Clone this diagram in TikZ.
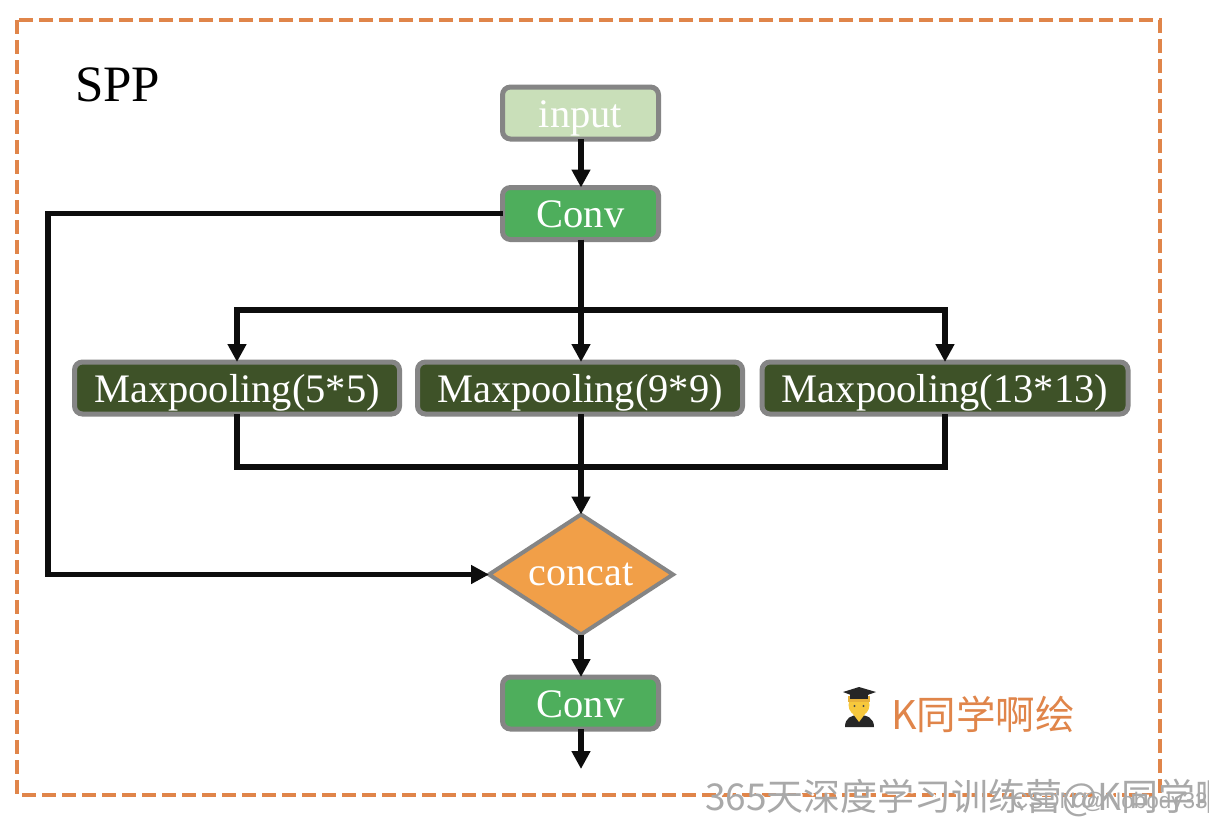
\documentclass[tikz,border=0pt]{standalone}
\usepackage{fontspec}
\setmainfont{Liberation Serif}
\newfontfamily\cjkfont{Noto Sans CJK SC}
\newfontfamily\latinsans{Liberation Sans}
\usetikzlibrary{arrows.meta,shapes.geometric,calc}
\definecolor{frameor}{HTML}{E0854A}
\definecolor{edgegray}{HTML}{858585}
\definecolor{lightgr}{HTML}{C9DFB9}
\definecolor{midgr}{HTML}{4EAE5C}
\definecolor{darkgr}{HTML}{3E5228}
\definecolor{concator}{HTML}{F19F48}
\definecolor{wmgray}{HTML}{A9A9A9}
\definecolor{skin}{HTML}{F7C83C}
\definecolor{hair}{HTML}{E9B23A}
\tikzset{
  x=1pt,y=-1pt,
  box/.style={draw=edgegray,line width=5pt,rounded corners=8pt,inner sep=0pt,outer sep=0pt,
    minimum height=52pt,text height=32pt,text depth=4pt,text=white,font=\fontsize{40.5}{44}\selectfont},
  inbox/.style={box,fill=lightgr,minimum width=156pt},
  convbox/.style={box,fill=midgr,minimum width=156pt},
  poolbox/.style={box,fill=darkgr},
  mergebox/.style={diamond,draw=edgegray,line width=4pt,fill=concator,inner sep=0pt,outer sep=0pt,aspect=1.52,
    minimum width=184pt,minimum height=120pt,text=white,font=\fontsize{40}{44}\selectfont},
  wire/.style={line width=5.5pt,draw=black!95},
  flow/.style={wire,-{Triangle[length=18pt,width=18pt]}},
  wmark/.style={text=wmgray,inner sep=0pt,anchor=west,font=\cjkfont\fontsize{37}{40}\selectfont},
  wmhalo/.style={text=white,inner sep=0pt,anchor=west,font=\cjkfont\fontsize{37}{40}\selectfont},
  wmsmall/.style={text=wmgray,inner sep=0pt,anchor=west,font=\latinsans\fontsize{22.5}{26}\selectfont},
}
\begin{document}
\begin{tikzpicture}
\path[use as bounding box,fill=white] (0,0) rectangle (1209,825);
\begin{scope}
\clip (0,0) rectangle (1209,825);
\draw[frameor,line width=4.5pt,dash pattern=on 14pt off 6pt] (17,20) rectangle (1160,795);

\node[inner sep=0pt,anchor=west,font=\fontsize{51}{55}\selectfont] (title) at (75,85) {SPP};

\node[inbox] (input) at (580.5,113) {input};
\node[convbox] (conv1) at (580.5,213.5) {Conv};
\node[poolbox,minimum width=325pt] (pool1) at (237,388) {Maxpooling(5*5)};
\node[poolbox,minimum width=325pt] (pool2) at (580,388) {Maxpooling(9*9)};
\node[poolbox,minimum width=366pt] (pool3) at (945,388) {Maxpooling(13*13)};
\node[mergebox] (concat) at (581,574.5) {concat};
\node[convbox] (conv2) at (580.5,703) {Conv};
\coordinate (outend) at (581,769);
\coordinate (leftcorner) at (48,213.5);
\coordinate (splitpt) at (581,310);
\coordinate (mergept) at (581,467);

\draw[flow] (input.south -| splitpt) -- (conv1.north -| splitpt);
\draw[flow] (conv1.south -| splitpt) -- (pool2.north -| splitpt);
\draw[flow] (splitpt) -| (pool1.north);
\draw[flow] (splitpt) -| (pool3.north);
\draw[wire] (pool1.south) |- (mergept) -| (pool3.south);
\draw[flow] (pool2.south -| splitpt) -- (concat.north);
\draw[flow] (conv1.west) -- (leftcorner) |- (concat.west);
\draw[flow] (concat.south) -- (conv2.north -| splitpt);
\draw[flow] (conv2.south -| splitpt) -- (outend);

% student emoji
\fill[black!85] (845,727) .. controls (845,718) and (851,715) .. (859,715) .. controls (867,715) and (874,718) .. (874,727) -- cycle;
\fill[skin] (853,714) -- (865,714) -- (859,722) -- cycle;
\fill[skin] (859,705) ellipse [x radius=10.5pt,y radius=11pt];
\fill[hair] (848,696) rectangle (870,702);
\fill[black!85] (843,692) -- (859,687) -- (876,692) -- (859,698) -- cycle;
\fill[black!85] (850,694) rectangle (868,699);
\fill[black!70] (854.5,706) circle (1.2pt) (863.5,706) circle (1.2pt);

\node[inner sep=0pt,anchor=west,text=frameor,font=\cjkfont\fontsize{39.5}{43}\selectfont] (sign) at (891,714) {K同学啊绘};

\node[wmhalo] (wmh) at (707,799) {365天深度学习训练营@K同学啊};
\node[wmark] (wm) at (705,798) {365天深度学习训练营@K同学啊};
\node[wmsmall] (csdn) at (1012,803) {CSDN @Nobody33};
\end{scope}
\end{tikzpicture}
\end{document}
